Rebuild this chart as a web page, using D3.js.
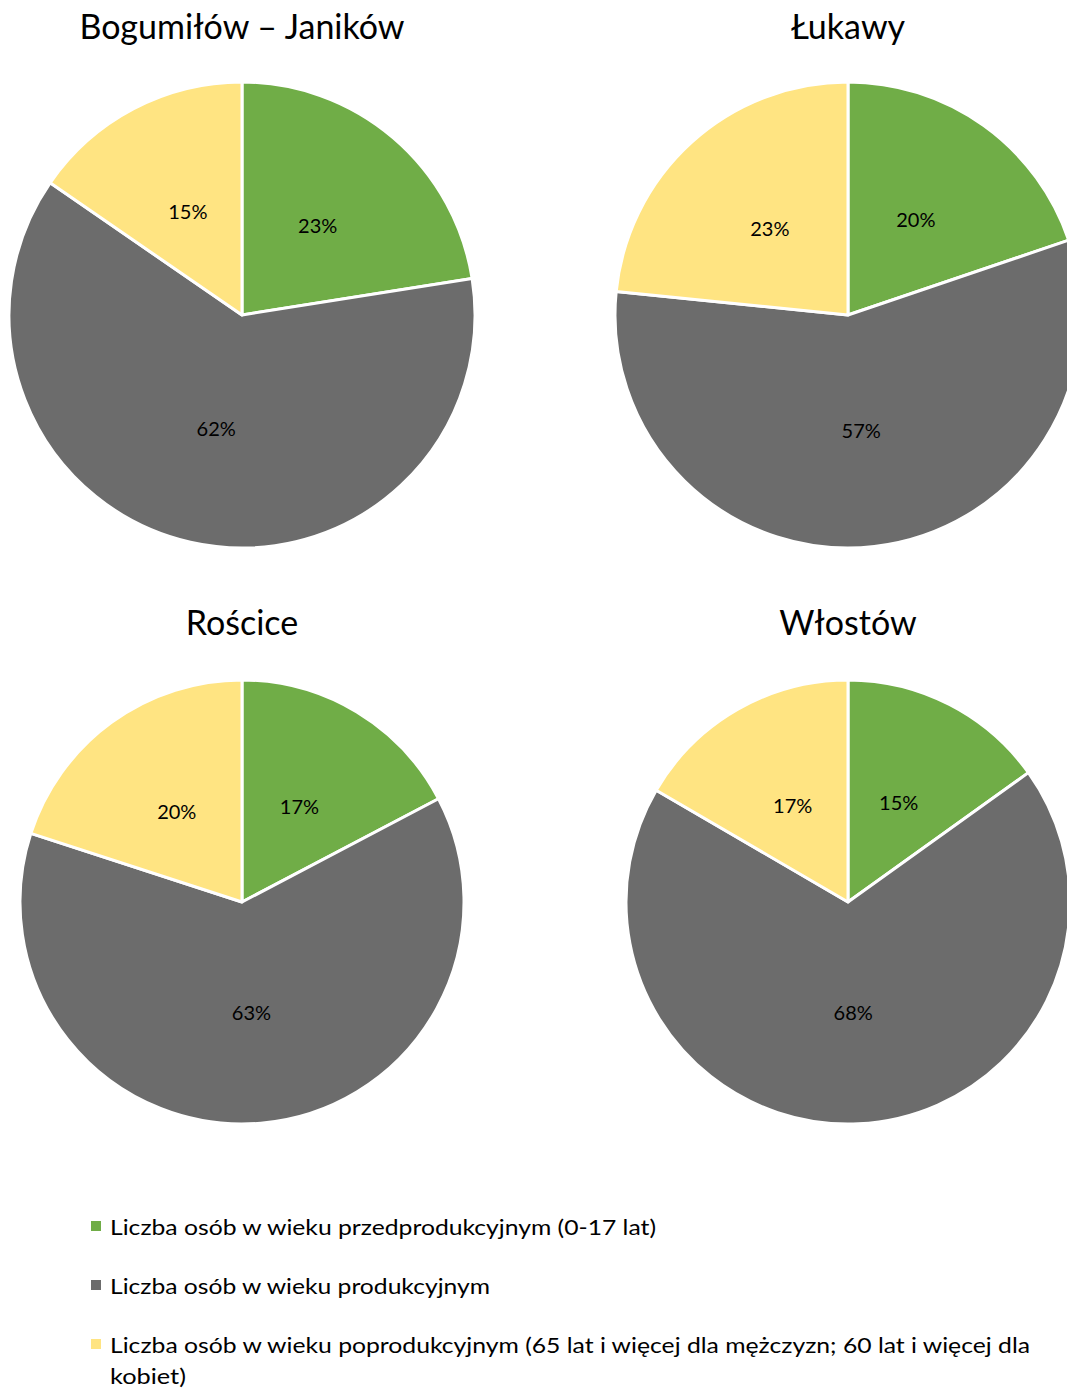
<!DOCTYPE html>
<html>
<head>
<meta charset="utf-8">
<script src="https://cdn.jsdelivr.net/npm/d3@7"></script>
<style>
  body { margin: 0; background: #fff; }
  text { font-family: Lato, "Open Sans", sans-serif; fill: #000; }
</style>
</head>
<body>
<svg id="chart"></svg>
<script>
const width = 1067;
const height = 1389;

// chart data (shares in %)
const places = ["Bogumiłów – Janików", "Łukawy", "Rościce", "Włostów"];
const groups = ["przed", "prod", "po"];
const shares = [
  [22.5, 62.1, 15.4],
  [19.8, 56.8, 23.4],
  [17.3, 62.7, 20.0],
  [15.1, 68.3, 16.6]
];
const legendLabels = [
  "Liczba osób w wieku przedprodukcyjnym (0-17 lat)",
  "Liczba osób w wieku produkcyjnym",
  "Liczba osób w wieku poprodukcyjnym (65 lat i więcej dla mężczyzn; 60 lat i więcej dla",
  "kobiet)"
];

const colors = d3.scaleOrdinal()
  .domain(groups)
  .range(["#70AD47", "#6C6C6C", "#FFE482"]);

// layout per pie: center and radius
const layout = [
  { cx: 242, cy: 315, r: 233, ty: 39 },
  { cx: 848, cy: 315, r: 233, ty: 39 },
  { cx: 242, cy: 902, r: 222, ty: 635 },
  { cx: 848, cy: 902, r: 222, ty: 635 }
];

const svg = d3.select("#chart")
  .attr("width", width)
  .attr("height", height);

const pie = d3.pie().sort(null).value(d => d.value);

places.forEach((name, i) => {
  let L = layout[i];
  let data = groups.map((g, j) => ({ key: g, value: shares[i][j] }));
  let arcs = pie(data);

  let arc = d3.arc().innerRadius(0).outerRadius(L.r);
  let labelArc = d3.arc().innerRadius(L.r * 0.5).outerRadius(L.r * 0.5);

  let g = svg.append("g").attr("transform", translate(L.cx, L.cy));

  g.selectAll("path")
    .data(arcs)
    .enter()
    .append("path")
    .attr("d", arc)
    .attr("fill", d => colors(d.data.key))
    .attr("stroke", "#fff")
    .attr("stroke-width", 3)
    .attr("stroke-linejoin", "round");

  g.selectAll("text.lbl")
    .data(arcs)
    .enter()
    .append("text")
    .attr("class", "lbl")
    .attr("transform", d => translate(...labelArc.centroid(d)))
    .attr("text-anchor", "middle")
    .attr("dy", "0.35em")
    .style("font-size", "20px")
    .text(d => Math.round(d.data.value) + "%");

  svg.append("text")
    .attr("x", L.cx)
    .attr("y", L.ty)
    .attr("text-anchor", "middle")
    .style("font-size", "34px")
    .text(name);
});

// legend
const legendRows = [
  { y: 1235, key: "przed", w: 546 },
  { y: 1294, key: "prod", w: 380 },
  { y: 1353, key: "po", w: 920 },
  { y: 1384, key: null, w: 76 }
];

legendRows.forEach((row, i) => {
  if (row.key) {
    svg.append("rect")
      .attr("x", 91)
      .attr("y", row.y - 14)
      .attr("width", 10)
      .attr("height", 10)
      .attr("fill", colors(row.key));
  }
  svg.append("text")
    .attr("x", 110)
    .attr("y", row.y)
    .style("font-size", "21px")
    .attr("textLength", row.w)
    .attr("lengthAdjust", "spacingAndGlyphs")
    .text(legendLabels[i]);
});

function translate(x, y) {
  return "translate(" + String(x) + "," + String(y) + ")";
}
</script>
</body>
</html>
